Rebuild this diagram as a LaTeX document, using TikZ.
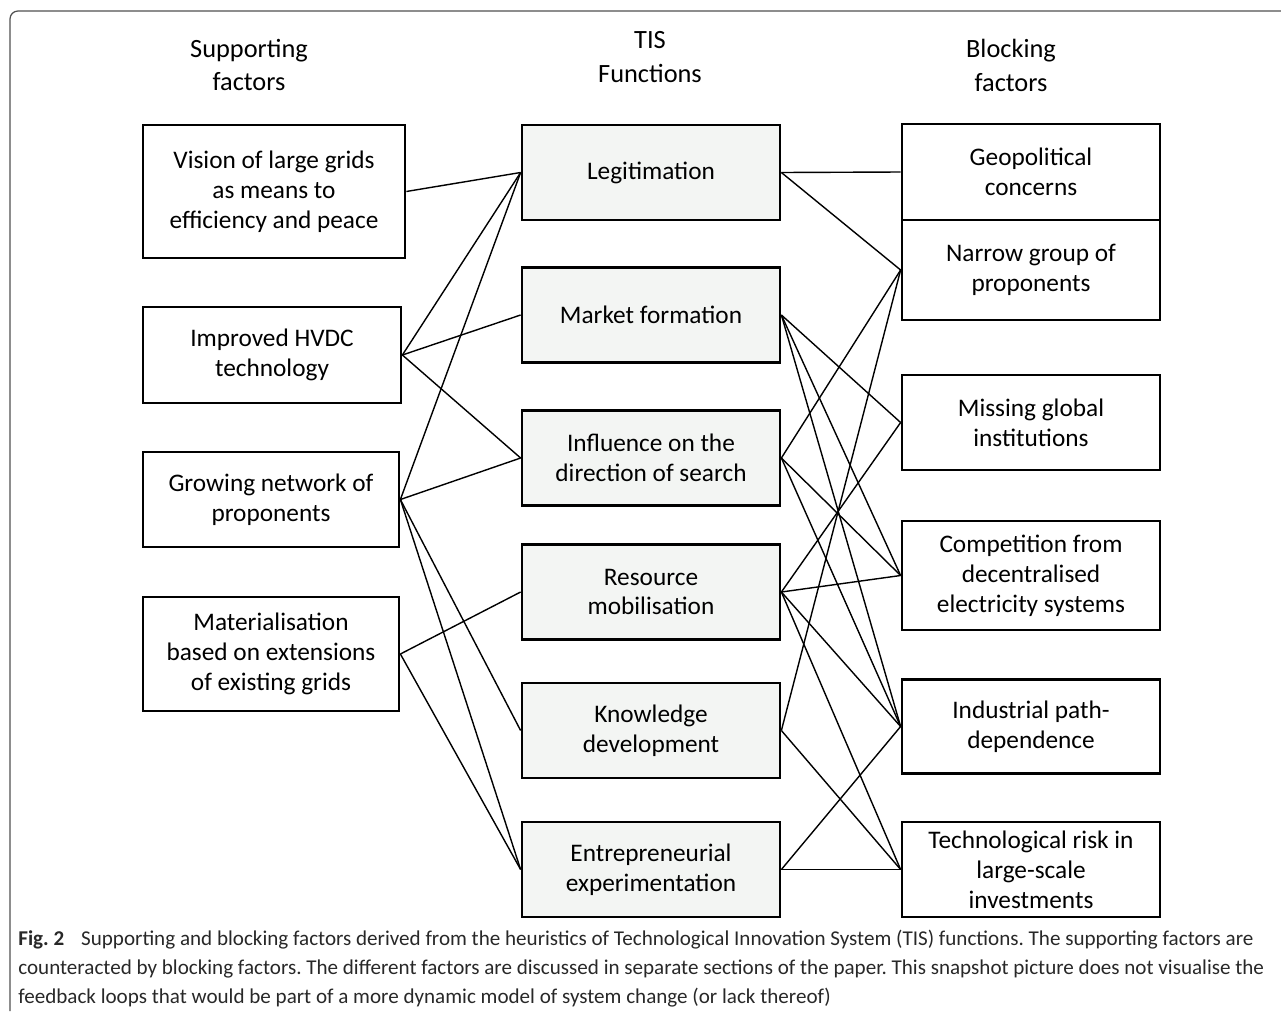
\documentclass[tikz,border=0pt]{standalone}
\usepackage{fontspec}
\setmainfont{Carlito}
\definecolor{funcfill}{RGB}{243,245,243}
\definecolor{framegray}{RGB}{80,80,80}
\definecolor{captext}{RGB}{40,40,40}
\frenchspacing
\begin{document}
\begin{tikzpicture}[x=0.02cm,y=-0.02cm,
  box/.style={draw,line width=1.6pt,inner sep=0pt,align=center,
    font=\fontsize{14.4}{17}\selectfont,minimum width=5.16cm,minimum height=1.9cm},
  func/.style={box,fill=funcfill},
  head/.style={align=center,font=\fontsize{15}{19.3}\selectfont},
  link/.style={line width=0.8pt}]
\useasboundingbox (0,0) rectangle (1281,1011);
\draw[framegray,line width=0.7pt,rounded corners=0.16cm] (10,1011) -- (10,11) -- (1281,11);
% column heads
\node[head] (hsup) at (249,65) {Supporting\\factors};
\node[head] (htis) at (650,57) {TIS\\Functions};
\node[head] (hblk) at (1011,65) {Blocking\\factors};
% supporting factors
\node[box,minimum width=5.24cm,minimum height=2.66cm] (l1) at (274,191.5) {Vision of large grids\\as means to\\efficiency and peace};
\node[box,minimum height=1.92cm] (l2) at (272,355) {Improved HVDC\\technology};
\node[box,minimum width=5.12cm] (l3) at (271,499.5) {Growing network of\\proponents};
\node[box,minimum width=5.12cm,minimum height=2.28cm] (l4) at (271,654) {Materialisation\\based on extensions\\of existing grids};
% TIS functions
\node[func] (m1) at (651,172.5) {Legitimation};
\node[func] (m2) at (651,315) {Market formation};
\node[func] (m3) at (651,458) {Influence on the\\direction of search};
\node[func] (m4) at (651,592) {Resource\\mobilisation};
\node[func] (m5) at (651,730.5) {Knowledge\\development};
\node[func] (m6) at (651,869.5) {Entrepreneurial\\experimentation};
% blocking factors
\node[box,minimum height=1.92cm] (r1) at (1031,172) {Geopolitical\\concerns};
\node[box,minimum height=2cm] (r2) at (1031,270) {Narrow group of\\proponents};
\node[box] (r3) at (1031,422.5) {Missing global\\institutions};
\node[box,minimum height=2.18cm] (r4) at (1031,575.5) {Competition from\\decentralised\\electricity systems};
\node[box,minimum height=1.88cm] (r5) at (1031,726.5) {Industrial path-\\dependence};
\node[box] (r6) at (1031,869.5) {Technological risk in\\large-scale\\investments};
% links
\foreach \a/\b in {l1/m1,l2/m1,l2/m2,l2/m3,l3/m1,l3/m3,l3/m5,l3/m6,l4/m4,l4/m6,
  m1/r1,m1/r2,m2/r3,m2/r4,m2/r5,m3/r2,m3/r4,m3/r5,m4/r3,m4/r4,m4/r5,m4/r6,
  m5/r2,m5/r6,m6/r5,m6/r6}
  \draw[link] (\a.east) -- (\b.west);
% caption
\node[anchor=north west,align=left,text=captext,inner sep=0pt,
  font=\fontsize{12}{16.4}\selectfont] (cap) at (18,930)
  {\textbf{Fig. 2}\hspace{0.8em}Supporting and blocking factors derived from the heuristics of Technological Innovation System (TIS) functions. The supporting factors are\\
  counteracted by blocking factors. The different factors are discussed in separate sections of the paper. This snapshot picture does not visualise the\\
  feedback loops that would be part of a more dynamic model of system change (or lack thereof)};
\end{tikzpicture}
\end{document}
